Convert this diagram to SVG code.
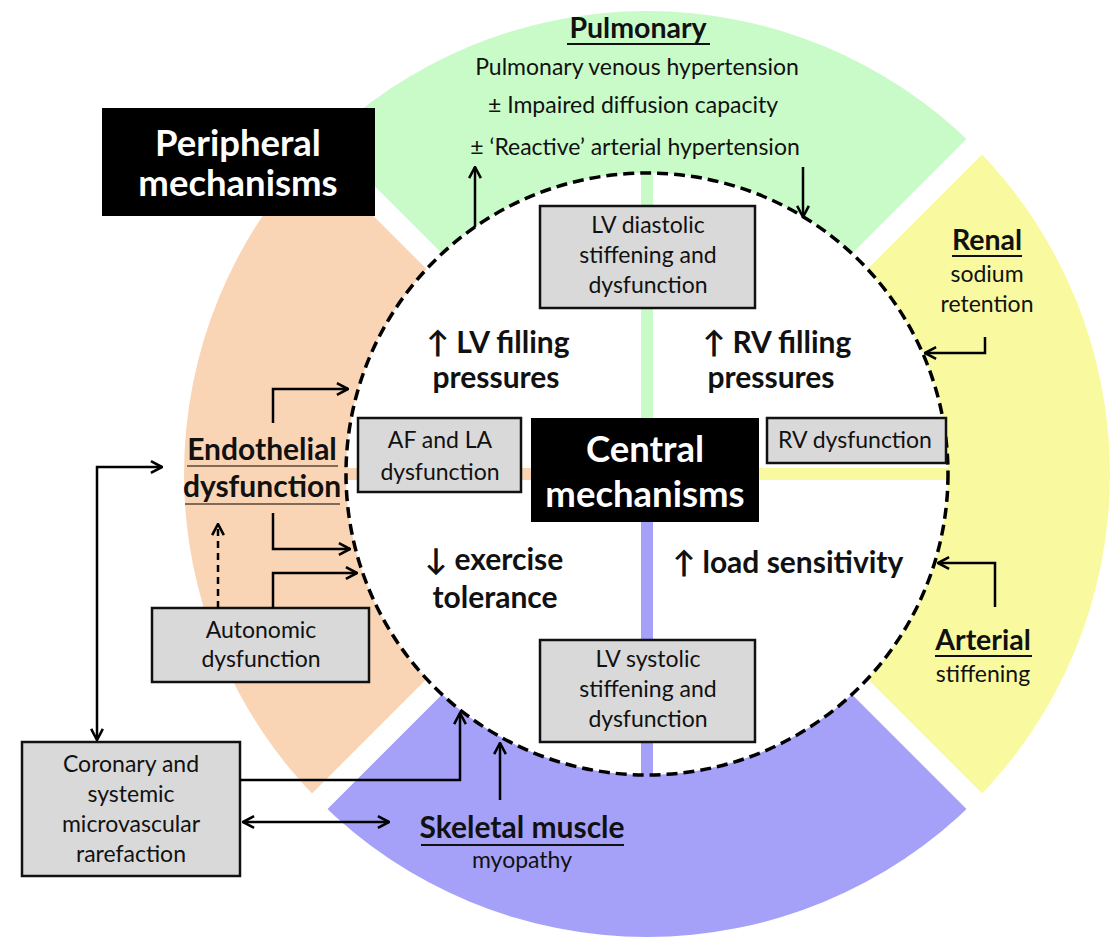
<svg xmlns="http://www.w3.org/2000/svg" width="1119" height="941" viewBox="0 0 1119 941">
<style>
text{font-family:Lato,"Open Sans","DejaVu Sans",sans-serif;fill:#111;text-anchor:middle}
.r{font-size:23px}
.b{font-size:30px;font-weight:bold}
.h{font-size:36.5px;font-weight:bold;fill:#fff}
.box{fill:#d9d9d9;stroke:#111;stroke-width:2.5}
.blk{fill:#000}
.ln{fill:none;stroke:#000;stroke-width:2.5}
.ul{stroke:#111;stroke-width:2}
</style>
<defs>
<marker id="a" viewBox="0 0 12 12" refX="11" refY="6" markerWidth="14" markerHeight="14" markerUnits="userSpaceOnUse" orient="auto-start-reverse">
<path d="M1.5,1 L11,6 L1.5,11" fill="none" stroke="#000" stroke-width="2.2"/>
</marker>
<clipPath id="cg"><polygon points="647,458.5 -53,-241.5 1347,-241.5"/></clipPath>
<clipPath id="cy"><polygon points="662.5,474 1362.5,-226 1362.5,1174"/></clipPath>
<clipPath id="cb"><polygon points="647,489.5 -53,1189.5 1347,1189.5"/></clipPath>
<clipPath id="co"><polygon points="631.5,474 -68.5,-226 -68.5,1174"/></clipPath>
</defs>
<rect width="1119" height="941" fill="#fff"/>
<g id="sectors">
<circle cx="647" cy="474" r="463" fill="#c9fbc9" clip-path="url(#cg)"/>
<circle cx="647" cy="474" r="463" fill="#f9fa9f" clip-path="url(#cy)"/>
<circle cx="647" cy="474" r="463" fill="#a5a1f9" clip-path="url(#cb)"/>
<circle cx="647" cy="474" r="463" fill="#fad5b5" clip-path="url(#co)"/>
<circle cx="647" cy="474" r="301" fill="#fff"/>
<rect x="641" y="173" width="12" height="246" fill="#c9fbc9"/>
<rect x="641" y="521" width="12" height="254" fill="#a5a1f9"/>
<rect x="346" y="468" width="186" height="12" fill="#fad5b5"/>
<rect x="757" y="468" width="191" height="12" fill="#f9fa9f"/>
<circle cx="647" cy="474" r="301" fill="none" stroke="#000" stroke-width="3.5" stroke-dasharray="11 6"/>
</g>
<g id="peripheral">
<rect x="102" y="108" width="273" height="108" class="blk"/>
<text x="238" y="156" class="h">Peripheral</text>
<text x="238" y="196" class="h">mechanisms</text>
</g>
<g id="pulmonary">
<text x="638" y="38" class="b" style="font-size:28.5px">Pulmonary</text>
<line x1="567" y1="44" x2="710" y2="44" class="ul"/>
<text x="637" y="75" class="r">Pulmonary venous hypertension</text>
<text x="633" y="113" class="r">± Impaired diffusion capacity</text>
<text x="635" y="155" class="r">± ‘Reactive’ arterial hypertension</text>
</g>
<g id="lv-diastolic">
<rect x="540" y="206" width="215" height="102" class="box"/>
<text x="648" y="233" class="r">LV diastolic</text>
<text x="648" y="263" class="r">stiffening and</text>
<text x="648" y="293" class="r">dysfunction</text>
</g>
<g id="lv-filling">
<text x="498" y="353" class="b">↑ LV filling</text>
<text x="496" y="388" class="b">pressures</text>
</g>
<g id="rv-filling">
<text x="777" y="353" class="b">↑ RV filling</text>
<text x="771" y="388" class="b">pressures</text>
</g>
<g id="af-la">
<rect x="358" y="418" width="163" height="74" class="box"/>
<text x="440" y="448" class="r">AF and LA</text>
<text x="440" y="480" class="r">dysfunction</text>
</g>
<g id="central">
<rect x="531" y="418" width="228" height="104" class="blk"/>
<text x="645" y="462" class="h">Central</text>
<text x="645" y="507" class="h">mechanisms</text>
</g>
<g id="rv-dysfunction">
<rect x="767" y="418" width="179" height="45" class="box"/>
<text x="855" y="448" class="r">RV dysfunction</text>
</g>
<g id="exercise">
<text x="494" y="570" class="b">↓ exercise</text>
<text x="495" y="608" class="b">tolerance</text>
</g>
<g id="load">
<text x="788" y="573" class="b">↑ load sensitivity</text>
</g>
<g id="lv-systolic">
<rect x="540" y="640" width="215" height="102" class="box"/>
<text x="648" y="667" class="r">LV systolic</text>
<text x="648" y="697" class="r">stiffening and</text>
<text x="648" y="727" class="r">dysfunction</text>
</g>
<g id="renal">
<text x="987" y="250" class="b" style="font-size:28.5px">Renal</text>
<line x1="952" y1="256" x2="1022" y2="256" class="ul"/>
<text x="987" y="282" class="r">sodium</text>
<text x="987" y="312" class="r">retention</text>
</g>
<g id="arterial">
<text x="983" y="650" class="b" style="font-size:28.5px">Arterial</text>
<line x1="935" y1="656" x2="1032" y2="656" class="ul"/>
<text x="983" y="682" class="r">stiffening</text>
</g>
<g id="endothelial">
<text x="262" y="460" class="b">Endothelial</text>
<line x1="187" y1="466" x2="338" y2="466" stroke="#806a58" stroke-width="2"/>
<text x="262" y="497" class="b">dysfunction</text>
<line x1="185" y1="504" x2="340" y2="504" stroke="#806a58" stroke-width="2"/>
</g>
<g id="autonomic">
<rect x="152" y="608" width="217" height="74" class="box"/>
<text x="261" y="638" class="r">Autonomic</text>
<text x="261" y="667" class="r">dysfunction</text>
</g>
<g id="coronary">
<rect x="22" y="742" width="218" height="134" class="box"/>
<text x="131" y="772" class="r">Coronary and</text>
<text x="131" y="802" class="r">systemic</text>
<text x="131" y="832" class="r">microvascular</text>
<text x="131" y="862" class="r">rarefaction</text>
</g>
<g id="skeletal">
<text x="522" y="838" class="b">Skeletal muscle</text>
<line x1="421" y1="845" x2="624" y2="845" class="ul"/>
<text x="522" y="868" class="r">myopathy</text>
</g>
<g id="connectors">
<path d="M475,227 V167" class="ln" marker-end="url(#a)"/>
<path d="M803,167 V217" class="ln" marker-end="url(#a)"/>
<path d="M985,337 V353 H925" class="ln" marker-end="url(#a)"/>
<path d="M995,607 V563 H938" class="ln" marker-end="url(#a)"/>
<path d="M273,423 V389 H348" class="ln" marker-end="url(#a)"/>
<path d="M273,513 V549 H350" class="ln" marker-end="url(#a)"/>
<path d="M273,608 V573 H357" class="ln" marker-end="url(#a)"/>
<path d="M218,608 V524" class="ln" stroke-dasharray="7 5" marker-end="url(#a)"/>
<path d="M162,467 H97 V740" class="ln" marker-start="url(#a)" marker-end="url(#a)"/>
<path d="M240,780 H460 V713" class="ln" marker-end="url(#a)"/>
<path d="M500,800 V743" class="ln" marker-end="url(#a)"/>
<path d="M243,822 H389" class="ln" marker-start="url(#a)" marker-end="url(#a)"/>
</g>
</svg>
